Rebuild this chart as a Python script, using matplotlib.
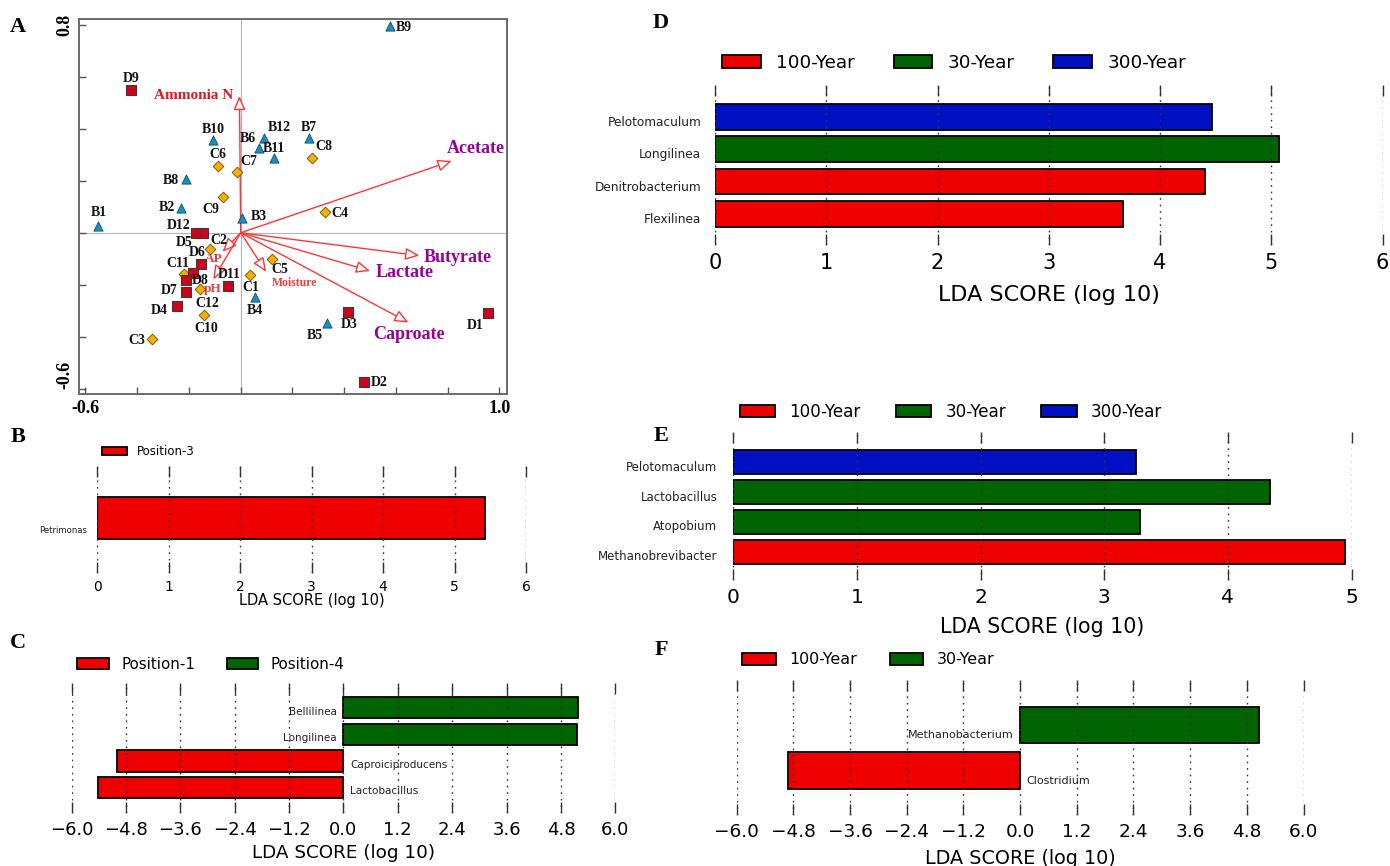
import numpy as np
import matplotlib
matplotlib.use("Agg")
import matplotlib.pyplot as plt
from matplotlib.patches import Patch

# ---------------- Panel A : RDA biplot ----------------
site_names = ["B1", "B2", "B3", "B4", "B5", "B6", "B7", "B8", "B9", "B10", "B11", "B12",
              "C1", "C2", "C3", "C4", "C5", "C6", "C7", "C8", "C9", "C10", "C11", "C12",
              "D1", "D2", "D3", "D4", "D5", "D6", "D7", "D8", "D9", "D10", "D11", "D12"]
site_x = [-0.550, -0.231, 0.006, 0.055, 0.332, 0.071, 0.263, -0.211, 0.577, -0.106, 0.129, 0.090,
          0.036, -0.119, -0.344, 0.326, 0.120, -0.087, -0.013, 0.274, -0.067, -0.142, -0.218, -0.157,
          0.955, 0.478, 0.416, -0.247, -0.145, -0.155, -0.213, -0.183, -0.424, -0.213, -0.050, -0.173]
site_y = [0.026, 0.094, 0.055, -0.246, -0.348, 0.325, 0.363, 0.205, 0.795, 0.357, 0.286, 0.363,
          -0.163, -0.064, -0.410, 0.078, -0.102, 0.258, 0.232, 0.286, 0.136, -0.318, -0.159, -0.215,
          -0.308, -0.575, -0.306, -0.282, 0.000, -0.120, -0.229, -0.156, 0.549, -0.182, -0.204, 0.000]
site_labelled = [True] * 33 + [False] + [True] * 2

env_names = ["Ammonia N", "Acetate", "Butyrate", "Lactate", "Caproate", "Moisture", "AP", "pH"]
env_x = [-0.005, 0.815, 0.690, 0.500, 0.648, 0.098, -0.070, -0.106]
env_y = [0.526, 0.276, -0.088, -0.147, -0.345, -0.150, -0.073, -0.179]

# ---------------- LEfSe panels ----------------
b_taxa = ["Petrimonas"]
b_scores = [5.42]
b_groups = ["Position-3"]

c_taxa = ["Lactobacillus", "Caproiciproducens", "Longilinea", "Bellilinea"]
c_scores = [-5.42, -4.99, 5.15, 5.17]
c_groups = ["Position-1", "Position-1", "Position-4", "Position-4"]

d_taxa = ["Flexilinea", "Denitrobacterium", "Longilinea", "Pelotomaculum"]
d_scores = [3.67, 4.40, 5.07, 4.465]
d_groups = ["100-Year", "100-Year", "30-Year", "300-Year"]

e_taxa = ["Methanobrevibacter", "Atopobium", "Lactobacillus", "Pelotomaculum"]
e_scores = [4.95, 3.29, 4.34, 3.26]
e_groups = ["100-Year", "30-Year", "30-Year", "300-Year"]

f_taxa = ["Clostridium", "Methanobacterium"]
f_scores = [-4.91, 5.05]
f_groups = ["100-Year", "30-Year"]

pos_ticks = [0, 1, 2, 3, 4, 5, 6]
pos_ticks5 = [0, 1, 2, 3, 4, 5]
sym_ticks = [-6.0, -4.8, -3.6, -2.4, -1.2, 0.0, 1.2, 2.4, 3.6, 4.8, 6.0]
sym_labels = ["\u22126.0", "\u22124.8", "\u22123.6", "\u22122.4", "\u22121.2", "0.0",
              "1.2", "2.4", "3.6", "4.8", "6.0"]

RED, GREEN, BLUE = "#EE0000", "#006400", "#0010C4"
group_colors = {"Position-3": RED, "Position-1": RED, "Position-4": GREEN,
                "100-Year": RED, "30-Year": GREEN, "300-Year": BLUE}

# ---------------- figure ----------------
W, H = 1390, 866
fig = plt.figure(figsize=(W / 100, H / 100), dpi=100)
SERIF = "Liberation Serif"
SANS = "DejaVu Sans"


def rect(l, t, r, b):
    return [l / W, 1 - b / H, (r - l) / W, (b - t) / H]


def ftext(x, y, s, **kw):
    fig.text(x / W, 1 - y / H, s, **kw)


# ---- Panel A ----
axA = fig.add_axes(rect(79, 19, 507, 394))
axA.set_xlim(-0.625, 1.029)
axA.set_ylim(-0.620, 0.822)
axA.axhline(0, color="#b5b5b5", lw=0.8, zorder=0)
axA.axvline(0, color="#b5b5b5", lw=0.8, zorder=0)
for s in axA.spines.values():
    s.set_color("#6a6a6a")
    s.set_linewidth(1.4)
axA.set_xticks(np.round(np.arange(-0.6, 1.01, 0.2), 1))
axA.set_yticks(np.round(np.arange(-0.6, 0.81, 0.2), 1))
axA.set_xticklabels(["-0.6", "", "", "", "", "", "", "", "1.0"])
axA.set_yticklabels(["-0.6", "", "", "", "", "", "", "0.8"], rotation=90, va="center")
axA.tick_params(direction="in", length=5, width=1, color="#555555", labelsize=13, pad=4)
for lab in axA.get_xticklabels() + axA.get_yticklabels():
    lab.set_family(SERIF)
    lab.set_fontweight("bold")
ylabs = axA.get_yticklabels()
ylabs[0].set_va("bottom")

arrow_col = "#FF3535"
for nm, ex, ey in zip(env_names, env_x, env_y):
    axA.annotate("", xy=(ex, ey), xytext=(0, 0),
                 arrowprops=dict(arrowstyle="-|>,head_length=0.65,head_width=0.28",
                                 mutation_scale=13, fc="white", ec=arrow_col, lw=1.0,
                                 shrinkA=0, shrinkB=0), zorder=2)

env_label_pos = {"Ammonia N": (-0.183, 0.527), "Acetate": (0.907, 0.325),
                 "Butyrate": (0.840, -0.095), "Lactate": (0.633, -0.154),
                 "Caproate": (0.648, -0.393), "Moisture": (0.208, -0.192),
                 "AP": (-0.106, -0.102), "pH": (-0.108, -0.218)}
env_label_style = {"Ammonia N": ("#E8141E", 11), "Acetate": ("#990099", 13),
                   "Butyrate": ("#990099", 13), "Lactate": ("#990099", 13),
                   "Caproate": ("#990099", 13), "Moisture": ("#F03C3C", 8.5),
                   "AP": ("#F03C3C", 9.5), "pH": ("#F03C3C", 9.5)}
for nm in env_names:
    lx, ly = env_label_pos[nm]
    col, fs = env_label_style[nm]
    axA.text(lx, ly, nm, color=col, fontsize=fs, family=SERIF, fontweight="bold",
             ha="center", va="center", zorder=4)

marker_style = {"B": dict(marker="^", s=44, c="#1C8DC0", edgecolors="#0b4f70", linewidths=0.6),
                "C": dict(marker="D", s=30, c="#F7AE00", edgecolors="#6b5000", linewidths=0.6),
                "D": dict(marker="s", s=58, c="#D0021B", edgecolors="#3a3a3a", linewidths=0.8)}
for g in ["B", "C", "D"]:
    xs = [x for n, x in zip(site_names, site_x) if n[0] == g]
    ys = [y for n, y in zip(site_names, site_y) if n[0] == g]
    axA.scatter(xs, ys, zorder=5, **marker_style[g])

# label offsets in pixels (dx right, dy down)
label_off = {"B1": (0.5, -13.7), "B2": (-13.8, -1), "B3": (16.9, -1.6), "B4": (0.3, 13.3),
             "B5": (-12, 12.4), "B6": (-11.5, -10), "B7": (0.5, -10.6), "B8": (-15.5, 0.7),
             "B9": (14.2, 1.3), "B10": (0.4, -10.7), "B11": (0.2, -10), "B12": (15.7, -10.6),
             "C1": (0.5, 12.3), "C2": (9, -8.6), "C3": (-14.5, 1.4), "C4": (15, 1),
             "C5": (8.3, 10), "C6": (0, -10.7), "C7": (11.7, -10.6), "C8": (12.1, -11.6),
             "C9": (-12.5, 12), "C10": (2.7, 13), "C11": (-6.3, -10.7), "C12": (7.7, 14.6),
             "D1": (-12.4, 12.3), "D2": (14.4, 0), "D3": (0.4, 11.7), "D4": (-17.2, 4),
             "D5": (-18.6, 10), "D6": (-3.7, -11.3), "D7": (-16.9, -1.6), "D8": (6.7, 6.7),
             "D9": (0.3, -11.3), "D11": (1.1, -11.7), "D12": (-17.7, -7.7)}
for n, x, y, lab in zip(site_names, site_x, site_y, site_labelled):
    if not lab:
        continue
    dx, dy = label_off[n]
    axA.annotate(n, xy=(x, y), xytext=(dx * 0.72, -dy * 0.72), textcoords="offset points",
                 ha="center", va="center", fontsize=10, family=SERIF, fontweight="bold",
                 color="#111111", zorder=6)


# ---- LEfSe helper ----
def lefse(box, taxa, scores, groups, xlim, ylim, ticks, ticklabels, tick_fs, xl_fs, xl_y,
          name_fs, name_dx, name_dy, tick_pad, legend_groups, leg_xy, leg_fs):
    ax = fig.add_axes(rect(*box))
    for i, (t, v, g) in enumerate(zip(taxa, scores, groups)):
        ax.barh(i, v, height=0.8, color=group_colors[g], edgecolor="black", linewidth=1.3,
                zorder=1)
        if v >= 0:
            ax.annotate(t, xy=(0, i), xytext=(-name_dx * 0.72, -name_dy * 0.72),
                        textcoords="offset points", ha="right", va="center",
                        fontsize=name_fs, family=SANS, color="#222222")
        else:
            ax.annotate(t, xy=(0, i), xytext=(name_dx * 0.72, -name_dy * 0.72),
                        textcoords="offset points", ha="left", va="center",
                        fontsize=name_fs, family=SANS, color="#222222")
    ax.set_xlim(*xlim)
    ax.set_ylim(*ylim)
    ax.set_xticks(ticks)
    ax.set_xticklabels(ticklabels)
    ax.set_yticks([])
    for s in ax.spines.values():
        s.set_visible(False)
    ax.tick_params(axis="x", top=True, bottom=True, direction="in", length=8, width=1,
                   color="#333333", labelsize=tick_fs, pad=tick_pad)
    ax.grid(axis="x", linestyle=(0, (1.2, 3.5)), color="#333333", lw=1.0, zorder=3)
    ax.set_axisbelow(False)
    ax.set_xlabel("LDA SCORE (log 10)", fontsize=xl_fs, family=SANS)
    t, b = box[1], box[3]
    ax.xaxis.set_label_coords(0.5, (b - xl_y) / (b - t))
    ax.xaxis.label.set_va("center")
    handles = [Patch(facecolor=group_colors[g], edgecolor="black", linewidth=1.3, label=g)
               for g in legend_groups]
    fig.legend(handles=handles, loc="center left",
               bbox_to_anchor=(leg_xy[0] / W, 1 - leg_xy[1] / H), bbox_transform=fig.transFigure,
               ncol=len(handles), frameon=False, handlelength=2.1,
               handleheight=0.72, handletextpad=0.85, columnspacing=2.1, borderpad=0,
               borderaxespad=0, prop=dict(family=SANS, size=leg_fs))
    return ax


# Panel B
lefse((97.1, 466, 526.1, 573.3), b_taxa, b_scores, b_groups, (0, 6), (-1.05, 0.98),
      pos_ticks, [str(v) for v in pos_ticks], 10, 10.5, 600, 6.1, 9.6, 12.9, 5,
      ["Position-3"], (101.8, 451.7), 8.5)
# Panel C
lefse((71.5, 683.3, 615.3, 812.7), c_taxa, c_scores, c_groups, (-6, 6), (-0.95, 3.92),
      sym_ticks, sym_labels, 13, 13.2, 853, 7.5, 6.7, 3.9, 6,
      ["Position-1", "Position-4"], (77, 664.3), 10.8)
# Panel D
lefse((715.1, 85, 1382.6, 245), d_taxa, d_scores, d_groups, (0, 6), (-0.97, 3.99),
      pos_ticks, [str(v) for v in pos_ticks], 15, 16, 295, 8.7, 14, 5.7, 6,
      ["100-Year", "30-Year", "300-Year"], (722.3, 63.3), 13.2)
# Panel E
lefse((733.3, 431.7, 1351.5, 580), e_taxa, e_scores, e_groups, (0, 5), (-0.95, 4.02),
      pos_ticks5, [str(v) for v in pos_ticks5], 14.5, 14.8, 626.7, 8.5, 15.8, 5.1, 6,
      ["100-Year", "30-Year", "300-Year"], (739.5, 411.7), 12.1)
# Panel F
lefse((736.6, 680, 1303.5, 815), f_taxa, f_scores, f_groups, (-6, 6), (-0.97, 1.98),
      sym_ticks, sym_labels, 13.3, 13.8, 858, 8, 6, 10.3, 6,
      ["100-Year", "30-Year"], (742.4, 660), 11.4)

# panel letters
for letter, (x, y) in {"A": (18, 27), "B": (18, 437), "C": (18, 643),
                       "D": (661, 23), "E": (661, 436), "F": (661, 650)}.items():
    ftext(x, y, letter, fontsize=16, family=SERIF, fontweight="bold", ha="center", va="center")

fig.savefig("out.png", dpi=100)
